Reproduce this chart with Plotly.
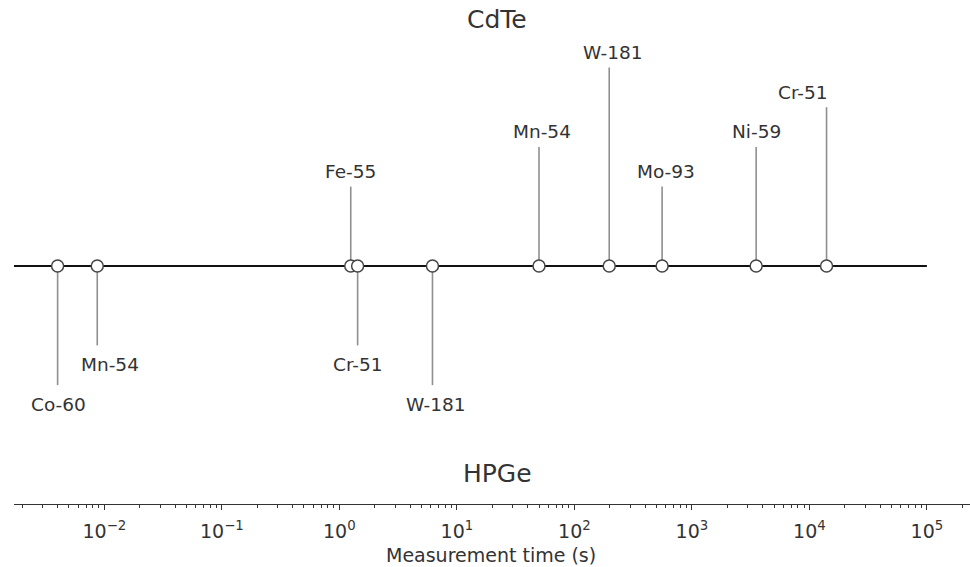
import math
import plotly.graph_objects as go

# ---- data ----
isotopes = ["Co-60", "Mn-54", "Fe-55", "Cr-51", "W-181", "Mn-54", "W-181", "Mo-93", "Ni-59", "Cr-51"]
times_s = [0.0040, 0.0087, 1.25, 1.43, 6.2, 50, 198, 558, 3525, 14000]
levels = [-3, -2, 2, -2, -3, 3, 5, 2, 3, 4]
label_xshift = [1, 13, 0, 0, 4, 3, 4, 4, 0, -24]
timeline_span = [1.7e-3, 1e5]
tick_vals = [1e-2, 1e-1, 1e0, 1e1, 1e2, 1e3, 1e4, 1e5]
tick_text = ["10<sup>\u22122</sup>", "10<sup>\u22121</sup>", "10<sup>0</sup>", "10<sup>1</sup>",
             "10<sup>2</sup>", "10<sup>3</sup>", "10<sup>4</sup>", "10<sup>5</sup>"]
minor_vals = [m * 10.0 ** k for k in range(-3, 6) for m in range(2, 10)]

FONT = "DejaVu Sans"
TXT = "#333333"

fig = go.Figure()

# stems
sx, sy = [], []
for t, lv in zip(times_s, levels):
    sx += [t, t, None]
    sy += [0, lv, None]
fig.add_trace(go.Scatter(x=sx, y=sy, mode="lines", line=dict(color="#8f8f8f", width=1.6),
                         hoverinfo="skip", showlegend=False))
# baseline
fig.add_trace(go.Scatter(x=timeline_span, y=[0, 0], mode="lines",
                         line=dict(color="#111111", width=2), hoverinfo="skip", showlegend=False))
# markers
fig.add_trace(go.Scatter(x=times_s, y=[0] * len(times_s), mode="markers",
                         marker=dict(size=12, color="white", line=dict(color="#444444", width=1.5)),
                         text=isotopes, showlegend=False))

for name, t, lv, dx in zip(isotopes, times_s, levels, label_xshift):
    fig.add_annotation(x=math.log10(t), y=lv, text=name, showarrow=False, xref="x", yref="y",
                       yanchor="middle", yshift=15 if lv > 0 else -19, xshift=dx,
                       font=dict(family=FONT, size=18.5, color=TXT))

H = 504.0
def py(p):
    return (H - p) / H
def px(p):
    return (p - 14) / (970 - 14)
for txt, x, y, sz in [("CdTe", 497, 20, 25), ("HPGe", 497, 473, 25),
                      ("Measurement time (s)", 491, 555, 19)]:
    fig.add_annotation(x=px(x), y=py(y), xref="paper", yref="paper", text=txt, showarrow=False,
                       xanchor="center", yanchor="middle",
                       font=dict(family=FONT, size=sz, color=TXT))

fig.update_layout(
    width=970, height=567, margin=dict(l=14, r=0, t=0, b=63),
    plot_bgcolor="white", paper_bgcolor="white",
    font=dict(family=FONT, color=TXT),
    xaxis=dict(type="log", range=[-2.769, 5.367], showgrid=False, zeroline=False,
               showline=True, linecolor="#333333", linewidth=1.2,
               ticks="outside", ticklen=5, tickwidth=1, tickcolor="#333333",
               tickvals=tick_vals, ticktext=tick_text, ticklabelstandoff=5,
               tickfont=dict(family=FONT, size=19, color=TXT),
               minor=dict(tickvals=minor_vals, ticks="outside", ticklen=3, tickcolor="#333333",
                          showgrid=False)),
    yaxis=dict(range=[-5.995, 6.70], visible=False, showgrid=False, zeroline=False),
)

fig.write_html("out.html")
